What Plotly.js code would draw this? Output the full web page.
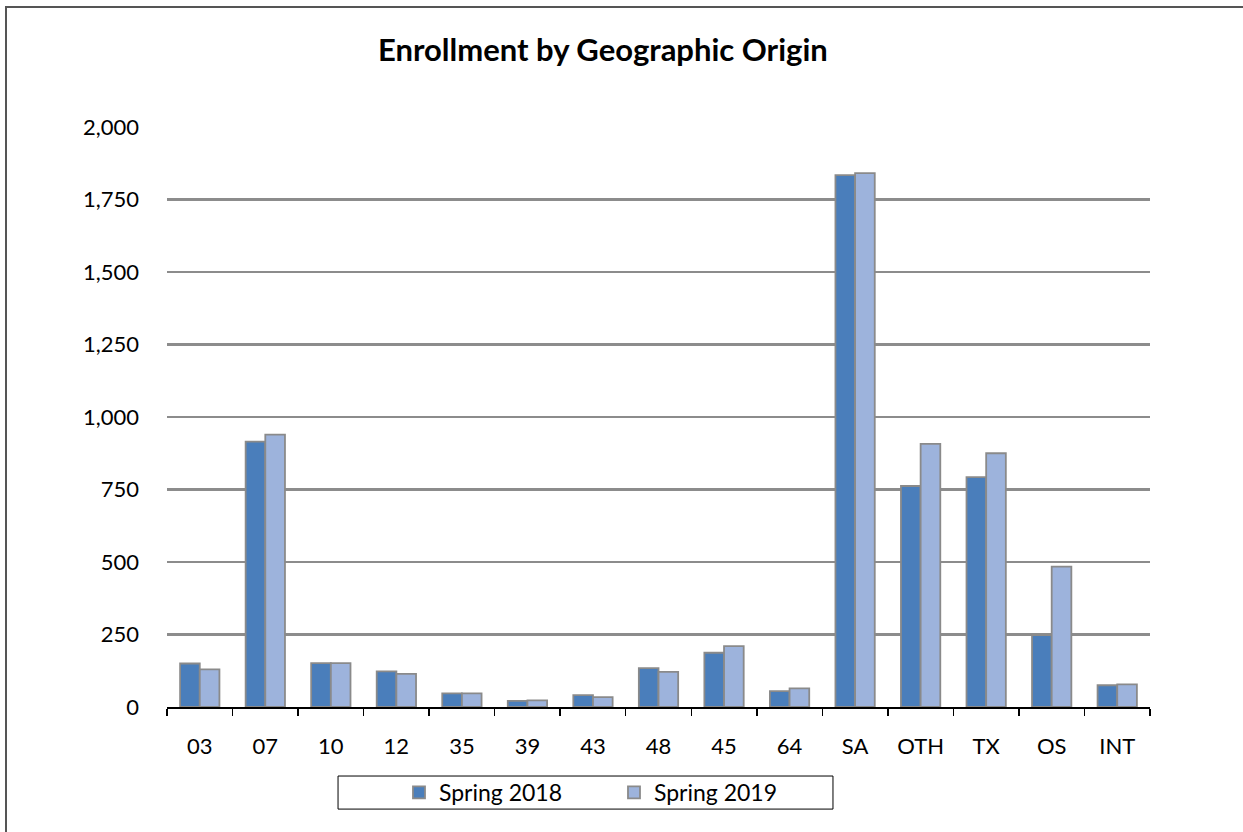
<!DOCTYPE html>
<html>
<head>
<meta charset="utf-8">
<script src="https://cdn.plot.ly/plotly-3.0.1.min.js"></script>
<style>
  html, body { margin: 0; padding: 0; background: #fff; }
  #frame { position: absolute; left: 5px; top: 6px; width: 1250px; height: 840px; border-left: 2px solid #555; border-top: 2px solid #555; box-sizing: border-box; pointer-events: none; }
  #chart { position: absolute; left: 0; top: 0; width: 1243px; height: 832px; }
</style>
</head>
<body>
<div id="chart"></div>
<div id="frame"></div>
<script>
const categories = ["03", "07", "10", "12", "35", "39", "43", "48", "45", "64", "SA", "OTH", "TX", "OS", "INT"];
const spring2018 = [150, 915, 151, 123, 47, 21, 41, 134, 187, 55, 1834, 762, 793, 248, 75];
const spring2019 = [130, 939, 151, 114, 47, 23, 34, 121, 210, 64, 1841, 907, 875, 484, 78];
const yTicks = [0, 250, 500, 750, 1000, 1250, 1500, 1750, 2000];
const yTickLabels = ["0", "250", "500", "750", "1,000", "1,250", "1,500", "1,750", "2,000"];

const font = "Lato, 'Open Sans', sans-serif";

const traces = [
  { type: "bar", name: "Spring 2018", x: categories, y: spring2018,
    marker: { color: "#4a7ebb", line: { color: "#8a8a8a", width: 1.8 } } },
  { type: "bar", name: "Spring 2019", x: categories, y: spring2019,
    marker: { color: "#9db3dc", line: { color: "#8a8a8a", width: 1.8 } } }
];

const layout = {
  width: 1243, height: 832,
  margin: { l: 167, r: 93, t: 127, b: 125 },
  paper_bgcolor: "#fff", plot_bgcolor: "#fff",
  font: { family: font, color: "#000", size: 22 },
  title: { text: "<b>Enrollment by Geographic Origin</b>", x: 0.485, xanchor: "center", y: 0.94, yanchor: "middle",
           font: { family: font, size: 31, color: "#000" } },
  barmode: "group", bargap: 0.4, bargroupgap: 0,
  xaxis: { type: "category", showgrid: false, showline: true, linecolor: "#000", linewidth: 1.5,
           ticks: "outside", tickson: "boundaries", ticklen: 7, tickcolor: "#000", tickwidth: 1.5,
           ticklabelstandoff: 19, tickfont: { family: font, size: 22 }, fixedrange: true },
  yaxis: { range: [0, 2000], tickvals: yTicks, ticktext: yTickLabels, showgrid: true,
           gridcolor: "#8c8c8c", gridwidth: 2.5, zeroline: false, showline: false, ticks: "",
           ticklabelstandoff: 27, tickfont: { family: font, size: 22 }, fixedrange: true },
  shapes: [
    { type: "rect", xref: "paper", yref: "paper", x0: 0.174, x1: 0.6775, y0: -0.176, y1: -0.119,
      line: { color: "#000", width: 1 }, fillcolor: "rgba(0,0,0,0)" }
  ],
  showlegend: true,
  legend: { orientation: "h", x: 0.236, xanchor: "left", y: -0.1474, yanchor: "middle",
            borderwidth: 0, bgcolor: "rgba(0,0,0,0)",
            font: { family: font, size: 23 }, itemwidth: 30, entrywidth: 170, traceorder: "normal" }
};

Plotly.newPlot("chart", traces, layout, { displayModeBar: false, staticPlot: true });
</script>
</body>
</html>
